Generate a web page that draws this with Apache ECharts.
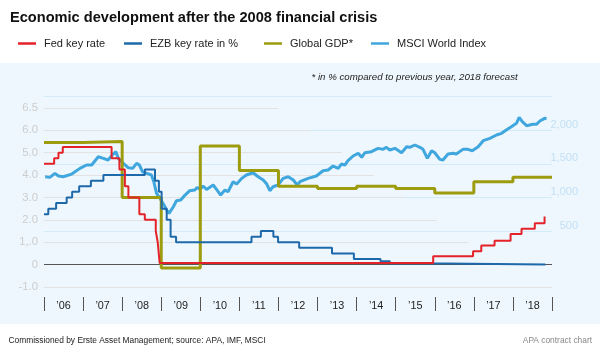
<!DOCTYPE html>
<html><head><meta charset="utf-8">
<script src="https://cdn.jsdelivr.net/npm/echarts@6/dist/echarts.min.js"></script>
<style>html,body{margin:0;padding:0;background:#fff}#c{width:600px;height:358px}</style>
</head><body><div id="c"></div>
<script>
// ---- data ----
const yearLabels = ['’06','’07','’08','’09','’10','’11','’12','’13','’14','’15','’16','’17','’18'];
const leftTickValues = [-1, 0, 1, 2, 3, 4, 5, 6, 7];
const leftTickLabels = ['-1.0', '0', '1,.0', '2.0', '3.0', '4.0', '5.0', '6.0', '6.5'];
const msciTickValues = [500, 1000, 1500, 2000];
const msciGridValues = [500, 1000, 1500, 2000, 2500];

const fedX = [2006.0, 2006.26, 2006.37, 2006.48, 2007.73, 2007.93, 2008.07, 2008.16, 2008.44, 2008.58, 2008.86, 2008.91, 2008.96, 2015.96, 2016.98, 2017.19, 2017.53, 2017.94, 2018.22, 2018.56, 2018.81];
const fedY = [4.5, 4.75, 5.0, 5.25, 4.75, 4.25, 3.5, 3.0, 2.25, 2.0, 1.5, 1.0, 0.07, 0.37, 0.6, 0.85, 1.07, 1.37, 1.6, 1.85, 2.15];

const ezbX = [2006.0, 2006.11, 2006.31, 2006.58, 2006.72, 2006.90, 2007.20, 2007.52, 2008.58, 2008.84, 2008.94, 2009.01, 2009.14, 2009.24, 2009.38, 2011.31, 2011.55, 2011.87, 2011.99, 2012.53, 2013.37, 2013.93, 2014.61, 2014.85, 2016.28, 2018.83];
const ezbY = [2.25, 2.5, 2.75, 3.0, 3.25, 3.5, 3.75, 4.0, 4.25, 3.75, 3.25, 2.5, 2.0, 1.25, 1.0, 1.25, 1.5, 1.25, 1.0, 0.75, 0.5, 0.25, 0.15, 0.05, 0.0, 0.0];

const gdpX = [2006, 2007, 2008, 2009, 2010, 2011, 2012, 2013, 2014, 2015, 2016, 2017, 2018, 2019];
const gdpY = [5.45, 5.5, 3.0, -0.15, 5.3, 4.2, 3.5, 3.4, 3.5, 3.4, 3.2, 3.7, 3.9, 3.9];

const msciX = [2006.03, 2006.15, 2006.28, 2006.37, 2006.49, 2006.71, 2006.92, 2007.09, 2007.22, 2007.39, 2007.52, 2007.64, 2007.77, 2007.84, 2007.90, 2008.03, 2008.16, 2008.27, 2008.37, 2008.44, 2008.52, 2008.63, 2008.75, 2008.81, 2008.88, 2008.97, 2009.07, 2009.14, 2009.20, 2009.31, 2009.39, 2009.50, 2009.61, 2009.73, 2009.86, 2009.92, 2009.99, 2010.07, 2010.16, 2010.33, 2010.43, 2010.52, 2010.63, 2010.71, 2010.84, 2010.93, 2011.06, 2011.18, 2011.35, 2011.48, 2011.61, 2011.70, 2011.78, 2011.86, 2011.99, 2012.12, 2012.25, 2012.38, 2012.48, 2012.55, 2012.76, 2012.97, 2013.14, 2013.27, 2013.40, 2013.53, 2013.61, 2013.70, 2013.78, 2013.91, 2014.04, 2014.13, 2014.21, 2014.38, 2014.55, 2014.68, 2014.76, 2014.85, 2014.98, 2015.15, 2015.28, 2015.36, 2015.49, 2015.62, 2015.70, 2015.81, 2015.92, 2016.00, 2016.13, 2016.21, 2016.34, 2016.47, 2016.55, 2016.72, 2016.85, 2016.96, 2017.11, 2017.24, 2017.41, 2017.58, 2017.71, 2017.83, 2017.96, 2018.09, 2018.16, 2018.24, 2018.35, 2018.51, 2018.60, 2018.69, 2018.81, 2018.86];
const msciY = [1308, 1299, 1359, 1319, 1308, 1348, 1433, 1483, 1483, 1606, 1582, 1557, 1646, 1681, 1582, 1508, 1442, 1433, 1508, 1483, 1383, 1359, 1334, 1234, 1061, 986, 887, 812, 763, 861, 951, 961, 1036, 1100, 1110, 1150, 1120, 1170, 1120, 1185, 1110, 1036, 1110, 1085, 1234, 1199, 1284, 1334, 1368, 1308, 1259, 1199, 1100, 1159, 1185, 1284, 1308, 1259, 1185, 1234, 1284, 1319, 1398, 1408, 1468, 1433, 1497, 1483, 1547, 1617, 1657, 1597, 1666, 1681, 1731, 1716, 1746, 1706, 1731, 1666, 1755, 1746, 1781, 1746, 1716, 1582, 1696, 1666, 1567, 1557, 1646, 1657, 1646, 1716, 1716, 1696, 1755, 1845, 1880, 1930, 1955, 2004, 2053, 2104, 2193, 2128, 2068, 2089, 2089, 2138, 2178, 2172];

// ---- chart ----
const FONT = "'Liberation Sans', Arial, sans-serif";
const zip = (xs, ys) => xs.map((x, i) => [x, ys[i]]);
const X0 = 2006, X1 = 2019;
const grayEnd = v => (v === -1 ? X1 : 2012.0 + (7 - v) * 0.81);

const chart = echarts.init(document.getElementById('c'), null, {renderer: 'canvas'});

const lineBase = {type: 'line', showSymbol: false, symbol: 'none', animation: false, silent: true, xAxisIndex: 0};
const mlBase = {symbol: ['none', 'none'], silent: true, animation: false, label: {show: false}, z: 1};

chart.setOption({
  animation: false,
  textStyle: {fontFamily: FONT},
  graphic: [
    {type: 'rect', z: -10, silent: true, shape: {x: 0, y: 63, width: 600, height: 261}, style: {fill: '#eef7fd'}},
    {type: 'text', x: 10, y: 18, silent: true, style: {text: 'Economic development after the 2008 financial crisis', font: "bold 14.6px 'Liberation Sans', Arial", fill: '#111', textVerticalAlign: 'middle'}},
    {type: 'text', x: 311.5, y: 77, silent: true, style: {text: '* in % compared to previous year, 2018 forecast', font: "italic 9.7px 'Liberation Sans', Arial", fill: '#222', textVerticalAlign: 'middle'}},
    {type: 'text', x: 8.5, y: 341, silent: true, style: {text: 'Commissioned by Erste Asset Management; source: APA, IMF, MSCI', font: "8.4px 'Liberation Sans', Arial", fill: '#222', textVerticalAlign: 'middle'}},
    {type: 'text', x: 592, y: 341, silent: true, style: {text: 'APA contract chart', font: "8.4px 'Liberation Sans', Arial", fill: '#888', textAlign: 'right', textVerticalAlign: 'middle'}}
  ],
  legend: [
    {data: ['Fed key rate'], left: 18},
    {data: ['EZB key rate in %'], left: 124},
    {data: ['Global GDP*'], left: 264},
    {data: ['MSCI World Index'], left: 371}
  ].map(l => Object.assign({
    top: 38, padding: 0, icon: 'rect', itemWidth: 18, itemHeight: 2.5, selectedMode: false,
    textStyle: {fontSize: 11, color: '#222', fontFamily: FONT, padding: [0, 0, 0, 3]}
  }, l)),
  grid: {left: 44, right: 48, top: 96.7, bottom: 71},
  xAxis: [
    {type: 'value', min: X0, max: X1, show: false},
    {type: 'category', data: yearLabels, position: 'bottom', offset: 10, boundaryGap: true,
     axisLine: {show: false, onZero: false},
     axisTick: {show: true, length: 14, interval: 0, lineStyle: {color: '#555', width: 1}},
     axisLabel: {margin: 4, fontSize: 10.8, color: '#222', fontFamily: FONT},
     splitLine: {show: false}}
  ],
  yAxis: [
    {type: 'value', min: -1, max: 7.5, position: 'left',
     axisLine: {show: false}, axisTick: {show: false}, splitLine: {show: false},
     axisLabel: {customValues: leftTickValues, formatter: v => leftTickLabels[leftTickValues.indexOf(v)],
                 color: '#cdcdcd', fontSize: 11.3, margin: 6, verticalAlign: 'middle', padding: [0, 0, 8, 0], fontFamily: FONT}},
    {type: 'value', min: -1000 / 3, max: 2500, position: 'right',
     axisLine: {show: false}, axisTick: {show: false}, splitLine: {show: false},
     axisLabel: {customValues: msciTickValues, formatter: v => v.toLocaleString('en-US'),
                 color: '#c3e0f4', fontSize: 11, margin: 26, align: 'right', verticalAlign: 'bottom', fontFamily: FONT}}
  ],
  series: [
    Object.assign({}, lineBase, {name: '_gridBlue', yAxisIndex: 1, data: [],
      markLine: Object.assign({}, mlBase, {lineStyle: {color: '#d3eaf9', width: 1, type: 'solid'},
        data: msciGridValues.map(v => [{coord: [X0, v]}, {coord: [X1, v]}])})}),
    Object.assign({}, lineBase, {name: '_gridGray', yAxisIndex: 0, data: [],
      markLine: Object.assign({}, mlBase, {lineStyle: {color: '#e2e2e2', width: 1, type: 'solid'},
        data: leftTickValues.filter(v => v !== 0).map(v => [{coord: [X0, v]}, {coord: [grayEnd(v), v]}])
          .concat([[{coord: [X0, 0], lineStyle: {color: '#555'}}, {coord: [X1, 0]}]])})}),
    Object.assign({}, lineBase, {name: 'MSCI World Index', yAxisIndex: 1, data: zip(msciX, msciY),
      color: '#40a7de', lineStyle: {color: '#40a7de', width: 3}}),
    Object.assign({}, lineBase, {name: 'Global GDP*', yAxisIndex: 0, step: 'end', data: zip(gdpX, gdpY),
      color: '#9d9c0e', lineStyle: {color: '#9d9c0e', width: 3}}),
    Object.assign({}, lineBase, {name: 'EZB key rate in %', yAxisIndex: 0, step: 'end', data: zip(ezbX, ezbY),
      color: '#1e69a9', lineStyle: {color: '#1e69a9', width: 2}}),
    Object.assign({}, lineBase, {name: 'Fed key rate', yAxisIndex: 0, step: 'end', data: zip(fedX, fedY),
      color: '#e42229', lineStyle: {color: '#e42229', width: 2}})
  ]
});
</script>
</body></html>
